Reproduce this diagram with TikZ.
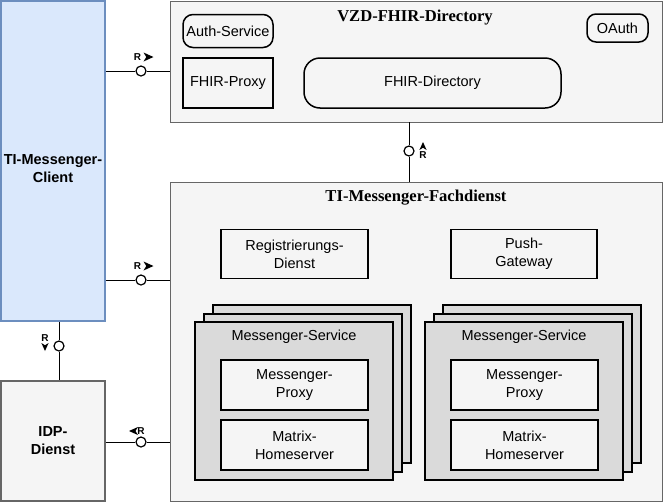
\documentclass[tikz,border=0pt]{standalone}
\usepackage{fontspec}
\setmainfont{Liberation Sans}
\newfontfamily\titlefont{Liberation Serif}
\usepackage{tikz}
\definecolor{paneFill}{HTML}{F5F5F5}
\definecolor{paneLine}{HTML}{666666}
\definecolor{clientFill}{HTML}{DAE8FC}
\definecolor{clientLine}{HTML}{6C8EBF}
\definecolor{stackFill}{HTML}{DADADA}

\begin{document}
\begin{tikzpicture}[x=1pt,y=-1pt,
  pane/.style={draw=paneLine, fill=paneFill, line width=0.8pt, inner sep=0pt},
  comp/.style={draw=black, fill=paneFill, line width=1.5pt, inner sep=2pt, align=center,
    font=\fontsize{14.5}{18}\selectfont},
  stack/.style={draw=black, fill=stackFill, line width=1.5pt, minimum width=198, minimum height=158, inner sep=0pt},
  actor/.style={line width=1.6pt, inner sep=2pt, align=center, font=\bfseries\fontsize{14.5}{18}\selectfont},
  title/.style={font=\titlefont\bfseries\fontsize{16.6}{18}\selectfont},
  plug/.style={circle, draw=black, fill=white, line width=1.2pt, minimum size=10, inner sep=0pt},
  rlabel/.style={inner sep=0pt, font=\bfseries\fontsize{10}{10}\selectfont},
  wire/.style={draw=black, line width=0.9pt},
  rtip/.pic={\fill (5,0) -- (-5,-4.5) -- (-2.2,0) -- (-5,4.5) -- cycle;},
]
  \useasboundingbox (0,0) rectangle (665,504);

  % outer parts
  \node[actor, draw=clientLine, fill=clientFill, minimum width=104, minimum height=320,
    label={[actor, yshift=-8pt]center:TI-Messenger-\\Client}] (client) at (53,161) {};
  \node[actor, draw=paneLine, fill=paneFill, minimum width=104, minimum height=120] (idp) at (53,441) {IDP-\\Dienst};

  % VZD-FHIR-Directory
  \node[pane, minimum width=492, minimum height=121] (vzd) at (416,61.5) {};
  \node[title] (vzd title) at (415,18) {VZD-FHIR-Directory};
  \node[comp, rounded corners=10, minimum width=90, minimum height=33] (auth) at (228,31) {Auth-Service};
  \node[comp, rounded corners=9, minimum width=61, minimum height=28] (oauth) at (617.5,28) {OAuth};
  \node[comp, minimum width=90, minimum height=50] (fhir proxy) at (228,83) {FHIR-Proxy};
  \node[comp, rounded corners=16, minimum width=257, minimum height=50] (fhir dir) at (432.5,83) {FHIR-Directory};

  % TI-Messenger-Fachdienst
  \node[pane, minimum width=492, minimum height=319] (fd) at (416,341.5) {};
  \node[title] (fd title) at (416,198) {TI-Messenger-Fachdienst};
  \node[comp, minimum width=147, minimum height=49] (reg) at (294.5,254) {Registrierungs-\\Dienst};
  \node[comp, minimum width=146, minimum height=49] (push) at (524,254) {Push-\\Gateway};

  \foreach \n/\cx in {1/294,2/524}{
    \node[stack] (ms\n c) at (\cx+18,384) {};
    \node[stack] (ms\n b) at (\cx+9,393) {};
    \node[stack] (ms\n) at (\cx,401) {};
    \node[comp, draw=none, fill=none] (ms\n title) at ([yshift=-15pt]ms\n.north) {Messenger-Service};
    \node[comp, minimum width=147, minimum height=50] (proxy\n) at (\cx+0.5,385) {Messenger-\\Proxy};
    \node[comp, minimum width=147, minimum height=50] (home\n) at (\cx+0.5,445) {Matrix-\\Homeserver};
  }

  % interfaces
  \node[plug] (p1) at (141,71) {};
  \node[plug] (p2) at (141,280) {};
  \node[plug] (p3) at (409,151) {};
  \node[plug] (p4) at (59,346) {};
  \node[plug] (p5) at (141,442) {};

  \draw[wire] (client.east |- p1) -- (p1) -- (vzd.west |- p1);
  \draw[wire] (client.east |- p2) -- (p2) -- (fd.west |- p2);
  \draw[wire] (vzd.south -| p3) -- (p3) -- (fd.north -| p3);
  \draw[wire] (client.south -| p4) -- (p4) -- (idp.north -| p4);
  \draw[wire] (idp.east |- p5) -- (p5) -- (fd.west |- p5);

  % R labels with direction
  \node[rlabel] (r1) at (137.5,57) {R};
  \pic at (148.5,57) {rtip};
  \node[rlabel] (r2) at (137.5,266) {R};
  \pic at (148.5,266) {rtip};
  \node[rlabel] (r3) at (423,155.5) {R};
  \pic[rotate=90, scale=0.8] at (423,146) {rtip};
  \node[rlabel] (r4) at (45,338) {R};
  \pic[rotate=-90, scale=0.8] at (45,347) {rtip};
  \node[rlabel] (r5) at (141,431) {R};
  \pic[rotate=180, scale=0.9] at (133.5,431) {rtip};
\end{tikzpicture}
\end{document}
